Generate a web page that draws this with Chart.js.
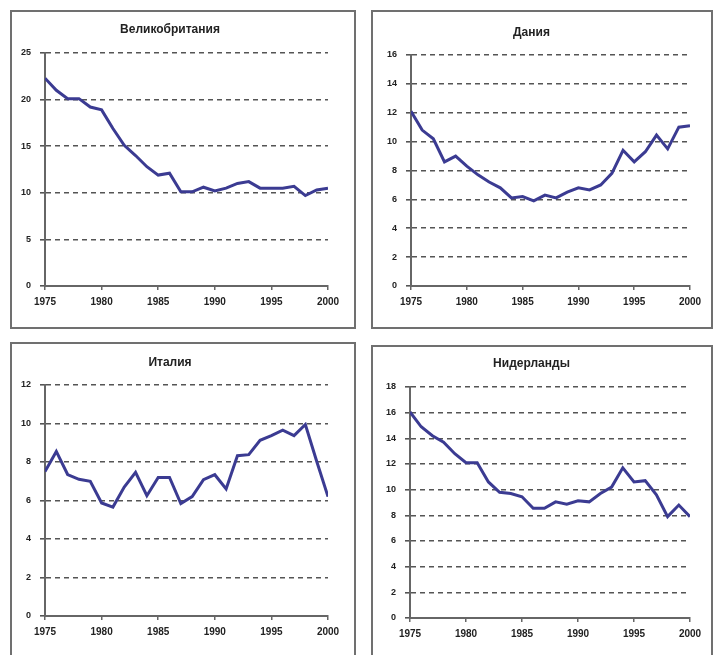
<!DOCTYPE html>
<html>
<head>
  <meta charset="utf-8">
  <title>Безработица 1975-2000</title>
  <script src="https://cdn.jsdelivr.net/npm/chart.js"></script>
  <style>
    body {
      margin: 0;
      background-color: #fff;
      overflow: hidden;
    }

    .page {
      position: relative;
      width: 715px;
      height: 655px;
      overflow: hidden;
    }

    .panel {
      position: absolute;
      box-sizing: border-box;
      border: 2px solid #707070;
      background-color: #fff;
    }

    canvas {
      display: block;
    }
  </style>
</head>
<body>
  <div class="page">
    <div class="panel" id="p1"><canvas id="ukChart"></canvas></div>
    <div class="panel" id="p2"><canvas id="dkChart"></canvas></div>
    <div class="panel" id="p3"><canvas id="itChart"></canvas></div>
    <div class="panel" id="p4"><canvas id="nlChart"></canvas></div>
  </div>

  <script>
    const years = [1975, 1976, 1977, 1978, 1979, 1980, 1981, 1982, 1983, 1984, 1985, 1986, 1987,
                   1988, 1989, 1990, 1991, 1992, 1993, 1994, 1995, 1996, 1997, 1998, 1999, 2000];

    const ukValues = [22.3, 21.0, 20.1, 20.1, 19.2, 18.9, 16.9, 15.1, 14.0, 12.8, 11.9, 12.1, 10.1,
                      10.1, 10.6, 10.2, 10.5, 11.0, 11.2, 10.5, 10.5, 10.5, 10.7, 9.7, 10.3, 10.5];
    const dkValues = [12.1, 10.8, 10.2, 8.6, 9.0, 8.3, 7.7, 7.2, 6.8, 6.1, 6.2, 5.9, 6.3,
                      6.1, 6.5, 6.8, 6.65, 7.0, 7.8, 9.4, 8.6, 9.3, 10.45, 9.5, 11.0, 11.1];
    const itValues = [7.5, 8.55, 7.35, 7.1, 7.0, 5.87, 5.66, 6.7, 7.46, 6.25, 7.2, 7.2, 5.84,
                      6.2, 7.08, 7.34, 6.6, 8.33, 8.38, 9.13, 9.37, 9.65, 9.37, 9.95, 8.04, 6.2];
    const nlValues = [16.05, 14.9, 14.2, 13.7, 12.8, 12.1, 12.1, 10.6, 9.8, 9.7, 9.45, 8.55, 8.55,
                      9.05, 8.87, 9.13, 9.05, 9.7, 10.2, 11.7, 10.6, 10.7, 9.6, 7.9, 8.8, 7.9];

    const ukTicks = { max: 25, step: 5 };
    const dkTicks = { max: 16, step: 2 };
    const itTicks = { max: 12, step: 2 };
    const nlTicks = { max: 18, step: 2 };

    const lineColor = '#3b3b92';
    const gridColor = '#555';
    const axisColor = '#666';
    const fontFamily = "'Liberation Sans', Arial, sans-serif";

    function placePanel(id, canvasId, left, top, width, height) {
      const div = document.getElementById(id);
      div.style.left = left + 'px';
      div.style.top = top + 'px';
      div.style.width = width + 'px';
      div.style.height = height + 'px';
      const canvas = document.getElementById(canvasId);
      canvas.width = width - 4;
      canvas.height = height - 4;
      return canvas;
    }

    function makeChart(canvas, title, values, ticks, box) {
      return new Chart(canvas.getContext('2d'), {
        type: 'line',
        data: {
          datasets: [{
            label: title,
            data: years.map((yr, i) => ({ x: yr, y: values[i] })),
            borderColor: lineColor,
            borderWidth: 3,
            pointRadius: 0,
            tension: 0,
            fill: false
          }]
        },
        options: {
          responsive: false,
          animation: false,
          events: [],
          layout: { padding: { left: 0, right: box.padRight, top: 0, bottom: 0 } },
          plugins: {
            legend: { display: false },
            tooltip: { enabled: false },
            title: {
              display: true,
              text: title,
              color: '#222',
              font: { family: fontFamily, size: 12, weight: 'bold' },
              padding: { top: box.titleTop, bottom: box.titleBottom }
            }
          },
          scales: {
            x: {
              type: 'linear',
              min: 1975,
              max: 2000,
              afterFit: s => { s.height = box.xHeight; },
              ticks: {
                stepSize: 5,
                maxRotation: 0,
                padding: 6,
                color: '#222',
                font: { family: fontFamily, size: 10, weight: 'bold' },
                callback: v => String(v)
              },
              grid: { drawOnChartArea: false, tickLength: 4, color: axisColor, lineWidth: 1.5 },
              border: { display: true, color: axisColor, width: 2 }
            },
            y: {
              min: 0,
              max: ticks.max,
              afterFit: s => { s.width = box.yWidth; },
              ticks: {
                stepSize: ticks.step,
                padding: 9,
                color: '#222',
                font: { family: fontFamily, size: 9, weight: 'bold' }
              },
              grid: { color: gridColor, lineWidth: 1.6, tickLength: 5 },
              border: { display: true, color: axisColor, width: 2, dash: [5, 4] }
            }
          }
        }
      });
    }

    window.onload = function() {
      const c1 = placePanel('p1', 'ukChart', 10, 10, 346, 319);
      const c2 = placePanel('p2', 'dkChart', 371, 10, 342, 319);
      const c3 = placePanel('p3', 'itChart', 10, 342, 346, 315);
      const c4 = placePanel('p4', 'nlChart', 371, 345, 342, 312);

      makeChart(c1, 'Великобритания', ukValues, ukTicks,
        { yWidth: 33, xHeight: 41, padRight: 26, titleTop: 10.8, titleBottom: 15.8 });
      makeChart(c2, 'Дания', dkValues, dkTicks,
        { yWidth: 38, xHeight: 41, padRight: 21, titleTop: 13.8, titleBottom: 14.8 });
      makeChart(c3, 'Италия', itValues, itTicks,
        { yWidth: 33, xHeight: 39, padRight: 26, titleTop: 11.8, titleBottom: 14.8 });
      makeChart(c4, 'Нидерланды', nlValues, nlTicks,
        { yWidth: 37, xHeight: 37, padRight: 21, titleTop: 9.8, titleBottom: 15.8 });
    };
  </script>
</body>
</html>
